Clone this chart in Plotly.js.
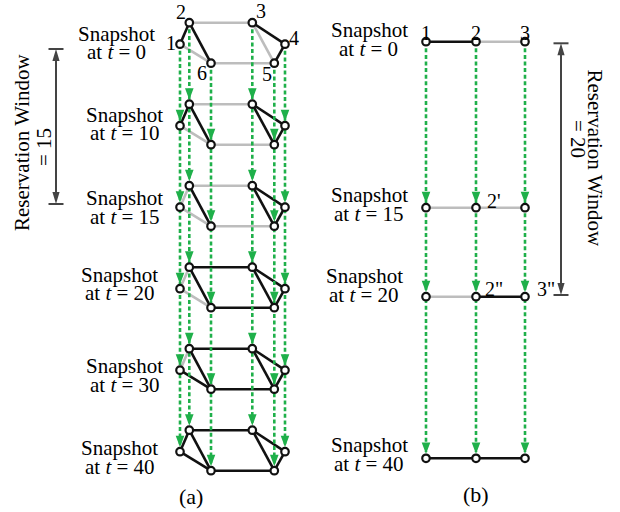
<!DOCTYPE html>
<html>
<head>
<meta charset="utf-8">
<script src="https://cdn.plot.ly/plotly-3.0.1.min.js"></script>
<style>html,body{margin:0;padding:0;background:#fff;}#chart{width:620px;height:512px;}</style>
</head>
<body>
<div id="chart"></div>
<script>
// ---------------- data ----------------
// Panel (a): six-node graph at six snapshot times
const snapshotsA = [0, 10, 15, 20, 30, 40];
const nodeIdsA = [1, 2, 3, 4, 5, 6];
const edgesA = [[1,2],[2,3],[2,6],[1,6],[6,5],[3,4],[3,5],[4,5]];
// 1 = edge present (black), 0 = edge absent (grey), one row per snapshot
const activeA = [
  [1,0,1,0,0,1,0,1],
  [1,0,1,0,0,1,1,1],
  [0,0,1,0,0,1,1,1],
  [0,1,1,0,1,1,1,1],
  [0,1,1,1,1,1,1,1],
  [1,1,1,1,1,1,1,1]
];
const windowA = 15;

// Panel (b): three-node chain at four snapshot times
const snapshotsB = [0, 15, 20, 40];
const nodeIdsB = [1, 2, 3];
const edgesB = [[1,2],[2,3]];
const activeB = [[1,0],[0,0],[0,1],[1,1]];
const windowB = 20;
const extraLabelsB = [{row:1, node:2, text:"2'"}, {row:2, node:2, text:'2"'}, {row:2, node:3, text:'3"'}];

// ---------------- geometry (drawing layout) ----------------
const geoA = {
  x:  {1:180, 2:189.3, 3:252.3, 4:285, 5:274.3, 6:211},
  dy: {1:21.5, 2:0, 3:0, 4:21.5, 5:40.5, 6:40.5},
  rowY: snapshotsA.map((_, i) => 22.7 + i * 81.5),
  label: [{cx:116,b:40.7},{cx:124.5,b:121.7},{cx:124.5,b:205},{cx:119.5,b:281.7},{cx:124.5,b:373.3},{cx:119.5,b:455}],
  numPos: {1:[-9,20],2:[-8.3,-10.5],3:[8.5,-11.8],4:[8.5,15.5],5:[-7.6,51.5],6:[-9.3,50.5]}
};
const geoB = {
  x: {1:426, 2:476, 3:525},
  rowY: [41.7, 207.7, 296.7, 458.3],
  label: [{cx:369,b:36.7},{cx:369.5,b:201.7},{cx:364.5,b:283.3},{cx:369.5,b:451.7}]
};

const GREEN = '#1fb04a', GREY = '#bdbdbd', DARK = '#444444';
const FONT = 'Liberation Serif';

function posA(node, row) { return [geoA.x[node], geoA.rowY[row] + geoA.dy[node]]; }
function posB(node, row) { return [geoB.x[node], geoB.rowY[row]]; }

const greyX = [], greyY = [], blackX = [], blackY = [];
function addEdge(p, q, on) {
  const X = on ? blackX : greyX, Y = on ? blackY : greyY;
  X.push(p[0], q[0], null); Y.push(p[1], q[1], null);
}
snapshotsA.forEach((t, r) => edgesA.forEach((e, k) => addEdge(posA(e[0], r), posA(e[1], r), activeA[r][k])));
snapshotsB.forEach((t, r) => edgesB.forEach((e, k) => addEdge(posB(e[0], r), posB(e[1], r), activeB[r][k])));

// green dashed temporal links + arrowheads
const gX = [], gY = [], hX = [], hY = [];
const TIP = 4.4, HL = 11.5, HW = 4.3;
function addColumn(pts) {
  const first = pts[0], last = pts[pts.length - 1];
  gX.push(first[0], last[0], null); gY.push(first[1], last[1] - TIP - 2, null);
  for (let i = 1; i < pts.length; i++) {
    const x = pts[i][0], yt = pts[i][1] - TIP;
    hX.push(x, x - HW, x + HW, x, null); hY.push(yt, yt - HL, yt - HL, yt, null);
  }
}
nodeIdsA.forEach(n => addColumn(snapshotsA.map((_, r) => posA(n, r))));
nodeIdsB.forEach(n => addColumn(snapshotsB.map((_, r) => posB(n, r))));

// nodes
const nX = [], nY = [];
snapshotsA.forEach((_, r) => nodeIdsA.forEach(n => { const p = posA(n, r); nX.push(p[0]); nY.push(p[1]); }));
snapshotsB.forEach((_, r) => nodeIdsB.forEach(n => { const p = posB(n, r); nX.push(p[0]); nY.push(p[1]); }));

// reservation windows (span first snapshot to the snapshot at t = window)
const wA = {x:56, y0:49, y1:204};
const wB = {x:561, y0:43.3, y1:295};
const rX = [], rY = [], raX = [], raY = [];
[wA, wB].forEach(w => {
  rX.push(w.x, w.x, null, w.x - 7.5, w.x + 7.5, null, w.x - 7.5, w.x + 7.5, null);
  rY.push(w.y0 + 6, w.y1 - 6, null, w.y0, w.y0, null, w.y1, w.y1, null);
  raX.push(w.x, w.x - 3.6, w.x + 3.6, w.x, null, w.x, w.x - 3.6, w.x + 3.6, w.x, null);
  raY.push(w.y0, w.y0 + 12, w.y0 + 12, w.y0, null, w.y1, w.y1 - 12, w.y1 - 12, w.y1, null);
});

const traces = [
  {x: greyX, y: greyY, mode:'lines', line:{color:GREY, width:2.6}, hoverinfo:'skip'},
  {x: blackX, y: blackY, mode:'lines', line:{color:'#111', width:2.6}, hoverinfo:'skip'},
  {x: gX, y: gY, mode:'lines', line:{color:GREEN, width:2.6, dash:'4px,2.6px'}, hoverinfo:'skip'},
  {x: hX, y: hY, mode:'none', fill:'toself', fillcolor:GREEN, hoverinfo:'skip'},
  {x: rX, y: rY, mode:'lines', line:{color:DARK, width:2}, hoverinfo:'skip'},
  {x: raX, y: raY, mode:'none', fill:'toself', fillcolor:DARK, hoverinfo:'skip'},
  {x: nX, y: nY, mode:'markers', marker:{symbol:'circle', size:7.5, color:'#fff', line:{color:'#111', width:2.2}}, hoverinfo:'skip'}
];

const ann = [];
function txt(x, y, text, size, angle) {
  ann.push({x, y, xref:'x', yref:'y', text, showarrow:false, xanchor:'center', yanchor:'middle',
            textangle: angle || 0, font:{family:FONT, size:size || 21, color:'#000'}});
}
snapshotsA.forEach((t, r) => {
  const L = geoA.label[r];
  txt(L.cx, L.b - 7, 'Snapshot');
  txt(L.cx, L.b + 18.5 - 7, 'at <i>t</i> = ' + t);
});
snapshotsB.forEach((t, r) => {
  const L = geoB.label[r];
  txt(L.cx, L.b - 7, 'Snapshot');
  txt(L.cx - 1, L.b + 18.8 - 7, 'at <i>t</i> = ' + t);
});
nodeIdsA.forEach(n => {
  const o = geoA.numPos[n];
  txt(geoA.x[n] + o[0], geoA.rowY[0] + o[1], String(n), 20);
});
nodeIdsB.forEach(n => txt(geoB.x[n], geoB.rowY[0] - 9, String(n), 20));
extraLabelsB.forEach(l => {
  const p = posB(l.node, l.row);
  txt(p[0] + (l.node === 2 ? 17.5 : 21), p[1] - (l.row === 1 ? 7 : 8), l.text, 20);
});
txt(22, 143, 'Reservation Window', 21, -90);
txt(44, 147, '= ' + windowA, 21, -90);
txt(595, 157.5, 'Reservation Window', 21, 90);
txt(578, 139, '= ' + windowB, 21, 90);
txt(191, 496, '(a)', 22);
txt(476, 494, '(b)', 22);

const layout = {
  width:620, height:512, margin:{l:0,r:0,t:0,b:0},
  font:{family:FONT},
  paper_bgcolor:'#fff', plot_bgcolor:'#fff', showlegend:false,
  xaxis:{range:[0,620], visible:false, fixedrange:true},
  yaxis:{range:[512,0], visible:false, fixedrange:true},
  annotations: ann
};
Plotly.newPlot('chart', traces, layout, {displayModeBar:false, staticPlot:true});
</script>
</body>
</html>
